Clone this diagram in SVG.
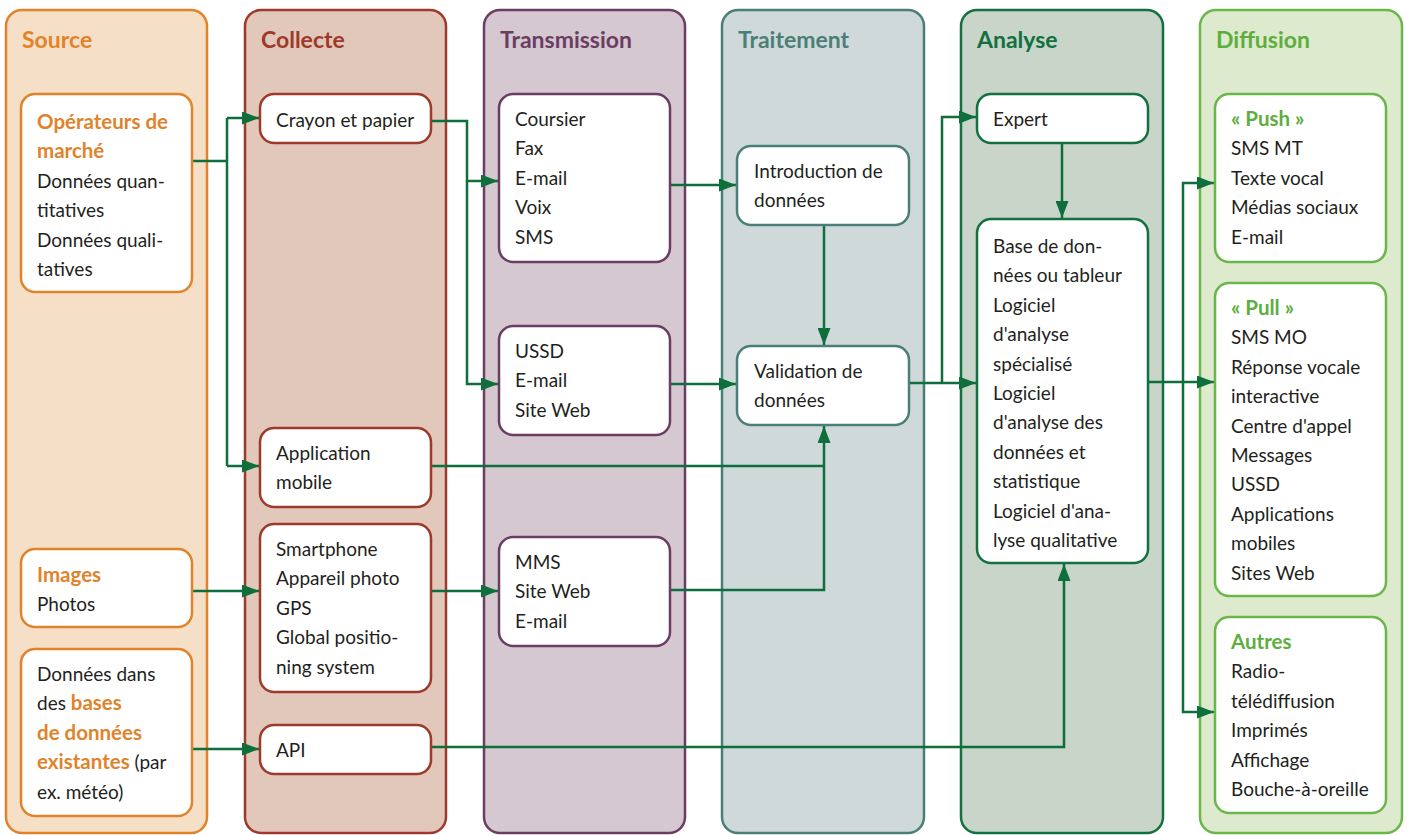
<svg xmlns="http://www.w3.org/2000/svg" width="1407" height="835" viewBox="0 0 1407 835">
<style>
.lane{stroke-width:2.5}
.node{fill:#fff;stroke-width:2.5}
.t{font-family:Lato,"Open Sans","Liberation Sans",sans-serif;font-size:19px;fill:#231F20}
.h{font-family:Lato,"Open Sans","Liberation Sans",sans-serif;font-size:23px;font-weight:bold}
.b{font-weight:bold;font-size:20.5px}
.con{fill:none;stroke:#0E6E3C;stroke-width:2.5}
.src{stroke:#E0832A}.col{stroke:#9E3A2B}.tra{stroke:#6B3D63}.trt{stroke:#4A7F78}.ana{stroke:#137040}.dif{stroke:#6BB64A}
</style>
<defs>
<marker id="ah" markerUnits="userSpaceOnUse" markerWidth="17" markerHeight="13" refX="17" refY="6.5" orient="auto">
<path d="M0,0 L17,6.5 L0,13 z" fill="#0E6E3C"/>
</marker>
</defs>
<rect width="1407" height="835" fill="#fff"/>
<g id="lanes">
<g id="lane-source"><rect class="lane src" x="6" y="10" width="201" height="823" rx="16" fill="#F6DFC7"/><text class="h" x="22" y="48" fill="#E0832A">Source</text></g>
<g id="lane-collecte"><rect class="lane col" x="245" y="10" width="201" height="823" rx="16" fill="#E2C8BA"/><text class="h" x="261" y="48" fill="#9E3A2B">Collecte</text></g>
<g id="lane-transmission"><rect class="lane tra" x="484" y="10" width="201" height="823" rx="16" fill="#D5C8D1"/><text class="h" x="500" y="48" fill="#6B3D63">Transmission</text></g>
<g id="lane-traitement"><rect class="lane trt" x="722" y="10" width="202" height="823" rx="16" fill="#D0D9D9"/><text class="h" x="738" y="48" fill="#4A7F78">Traitement</text></g>
<g id="lane-analyse"><rect class="lane ana" x="961" y="10" width="202" height="823" rx="16" fill="#C8D5C8"/><text class="h" x="977" y="48" fill="#137040">Analyse</text></g>
<g id="lane-diffusion"><rect class="lane dif" x="1200" y="10" width="202" height="823" rx="16" fill="#DDEACD"/><text class="h" x="1216" y="48" fill="#5DAE3E">Diffusion</text></g>
</g>
<g id="connectors">
<path class="con" d="M192,161 H227"/>
<path class="con" d="M227,118 V466"/>
<path class="con" d="M227,118 H259" marker-end="url(#ah)"/>
<path class="con" d="M227,466 H259" marker-end="url(#ah)"/>
<path class="con" d="M431,121 H467 V384 H498" marker-end="url(#ah)"/>
<path class="con" d="M467,181 H498" marker-end="url(#ah)"/>
<path class="con" d="M670,185 H736" marker-end="url(#ah)"/>
<path class="con" d="M670,384 H736" marker-end="url(#ah)"/>
<path class="con" d="M824,225 V345" marker-end="url(#ah)"/>
<path class="con" d="M431,466 H824"/>
<path class="con" d="M670,590 H824 V426" marker-end="url(#ah)"/>
<path class="con" d="M192,591 H259" marker-end="url(#ah)"/>
<path class="con" d="M431,591 H498" marker-end="url(#ah)"/>
<path class="con" d="M192,749 H259" marker-end="url(#ah)"/>
<path class="con" d="M431,747 H1064 V564" marker-end="url(#ah)"/>
<path class="con" d="M909,383 H976" marker-end="url(#ah)"/>
<path class="con" d="M942,383 V117 H976" marker-end="url(#ah)"/>
<path class="con" d="M1062,143 V218" marker-end="url(#ah)"/>
<path class="con" d="M1148,382 H1214" marker-end="url(#ah)"/>
<path class="con" d="M1183,382 V183 H1214" marker-end="url(#ah)"/>
<path class="con" d="M1183,382 V712 H1214" marker-end="url(#ah)"/>
</g>
<g id="n-operateurs"><rect class="node src" x="21" y="94" width="171" height="198" rx="14"/>
<text class="t" x="37" y="129"><tspan class="b" fill="#E0832A">Opérateurs de</tspan><tspan x="37" dy="29.4" class="b" fill="#E0832A">marché</tspan><tspan x="37" dy="29.4">Données quan-</tspan><tspan x="37" dy="29.4">titatives</tspan><tspan x="37" dy="29.4">Données quali-</tspan><tspan x="37" dy="29.4">tatives</tspan></text></g>
<g id="n-images"><rect class="node src" x="21" y="549" width="171" height="78" rx="14"/>
<text class="t" x="37" y="582"><tspan class="b" fill="#E0832A">Images</tspan><tspan x="37" dy="29.4">Photos</tspan></text></g>
<g id="n-bases"><rect class="node src" x="21" y="649" width="171" height="167" rx="14"/>
<text class="t" x="37" y="681"><tspan>Données dans</tspan><tspan x="37" dy="29.4">des </tspan><tspan class="b" fill="#E0832A">bases</tspan><tspan x="37" dy="29.4" class="b" fill="#E0832A">de données</tspan><tspan x="37" dy="29.4" class="b" fill="#E0832A">existantes</tspan><tspan> (par</tspan><tspan x="37" dy="29.4">ex. météo)</tspan></text></g>
<g id="n-crayon"><rect class="node col" x="260" y="94" width="171" height="49" rx="14"/>
<text class="t" x="276" y="127">Crayon et papier</text></g>
<g id="n-appmobile"><rect class="node col" x="260" y="428" width="171" height="79" rx="14"/>
<text class="t" x="276" y="460"><tspan>Application</tspan><tspan x="276" dy="29.4">mobile</tspan></text></g>
<g id="n-smartphone"><rect class="node col" x="260" y="524" width="171" height="168" rx="14"/>
<text class="t" x="276" y="556"><tspan>Smartphone</tspan><tspan x="276" dy="29.4">Appareil photo</tspan><tspan x="276" dy="29.4">GPS</tspan><tspan x="276" dy="29.4">Global positio-</tspan><tspan x="276" dy="29.4">ning system</tspan></text></g>
<g id="n-api"><rect class="node col" x="260" y="725" width="171" height="49" rx="14"/>
<text class="t" x="276" y="757">API</text></g>
<g id="n-coursier"><rect class="node tra" x="499" y="94" width="171" height="168" rx="14"/>
<text class="t" x="515" y="126"><tspan>Coursier</tspan><tspan x="515" dy="29.4">Fax</tspan><tspan x="515" dy="29.4">E-mail</tspan><tspan x="515" dy="29.4">Voix</tspan><tspan x="515" dy="29.4">SMS</tspan></text></g>
<g id="n-ussd"><rect class="node tra" x="499" y="326" width="171" height="109" rx="14"/>
<text class="t" x="515" y="358"><tspan>USSD</tspan><tspan x="515" dy="29.4">E-mail</tspan><tspan x="515" dy="29.4">Site Web</tspan></text></g>
<g id="n-mms"><rect class="node tra" x="499" y="537" width="171" height="109" rx="14"/>
<text class="t" x="515" y="569"><tspan>MMS</tspan><tspan x="515" dy="29.4">Site Web</tspan><tspan x="515" dy="29.4">E-mail</tspan></text></g>
<g id="n-introduction"><rect class="node trt" x="737" y="146" width="172" height="79" rx="14"/>
<text class="t" x="754" y="178"><tspan>Introduction de</tspan><tspan x="754" dy="29.4">données</tspan></text></g>
<g id="n-validation"><rect class="node trt" x="737" y="346" width="172" height="79" rx="14"/>
<text class="t" x="754" y="378"><tspan>Validation de</tspan><tspan x="754" dy="29.4">données</tspan></text></g>
<g id="n-expert"><rect class="node ana" x="977" y="94" width="171" height="49" rx="14"/>
<text class="t" x="993" y="126">Expert</text></g>
<g id="n-base"><rect class="node ana" x="977" y="219" width="171" height="344" rx="14"/>
<text class="t" x="993" y="253"><tspan>Base de don-</tspan><tspan x="993" dy="29.4">nées ou tableur</tspan><tspan x="993" dy="29.4">Logiciel</tspan><tspan x="993" dy="29.4">d'analyse</tspan><tspan x="993" dy="29.4">spécialisé</tspan><tspan x="993" dy="29.4">Logiciel</tspan><tspan x="993" dy="29.4">d'analyse des</tspan><tspan x="993" dy="29.4">données et</tspan><tspan x="993" dy="29.4">statistique</tspan><tspan x="993" dy="29.4">Logiciel d'ana-</tspan><tspan x="993" dy="29.4">lyse qualitative</tspan></text></g>
<g id="n-push"><rect class="node dif" x="1215" y="94" width="171" height="168" rx="14"/>
<text class="t" x="1231" y="126"><tspan class="b" fill="#5DAE3E">« Push »</tspan><tspan x="1231" dy="29.4">SMS MT</tspan><tspan x="1231" dy="29.4">Texte vocal</tspan><tspan x="1231" dy="29.4">Médias sociaux</tspan><tspan x="1231" dy="29.4">E-mail</tspan></text></g>
<g id="n-pull"><rect class="node dif" x="1215" y="283" width="171" height="313" rx="14"/>
<text class="t" x="1231" y="315"><tspan class="b" fill="#5DAE3E">« Pull »</tspan><tspan x="1231" dy="29.4">SMS MO</tspan><tspan x="1231" dy="29.4">Réponse vocale</tspan><tspan x="1231" dy="29.4">interactive</tspan><tspan x="1231" dy="29.4">Centre d'appel</tspan><tspan x="1231" dy="29.4">Messages</tspan><tspan x="1231" dy="29.4">USSD</tspan><tspan x="1231" dy="29.4">Applications</tspan><tspan x="1231" dy="29.4">mobiles</tspan><tspan x="1231" dy="29.4">Sites Web</tspan></text></g>
<g id="n-autres"><rect class="node dif" x="1215" y="617" width="171" height="196" rx="14"/>
<text class="t" x="1231" y="649"><tspan class="b" fill="#5DAE3E">Autres</tspan><tspan x="1231" dy="29.4">Radio-</tspan><tspan x="1231" dy="29.4">télédiffusion</tspan><tspan x="1231" dy="29.4">Imprimés</tspan><tspan x="1231" dy="29.4">Affichage</tspan><tspan x="1231" dy="29.4">Bouche-à-oreille</tspan></text></g>
</svg>
